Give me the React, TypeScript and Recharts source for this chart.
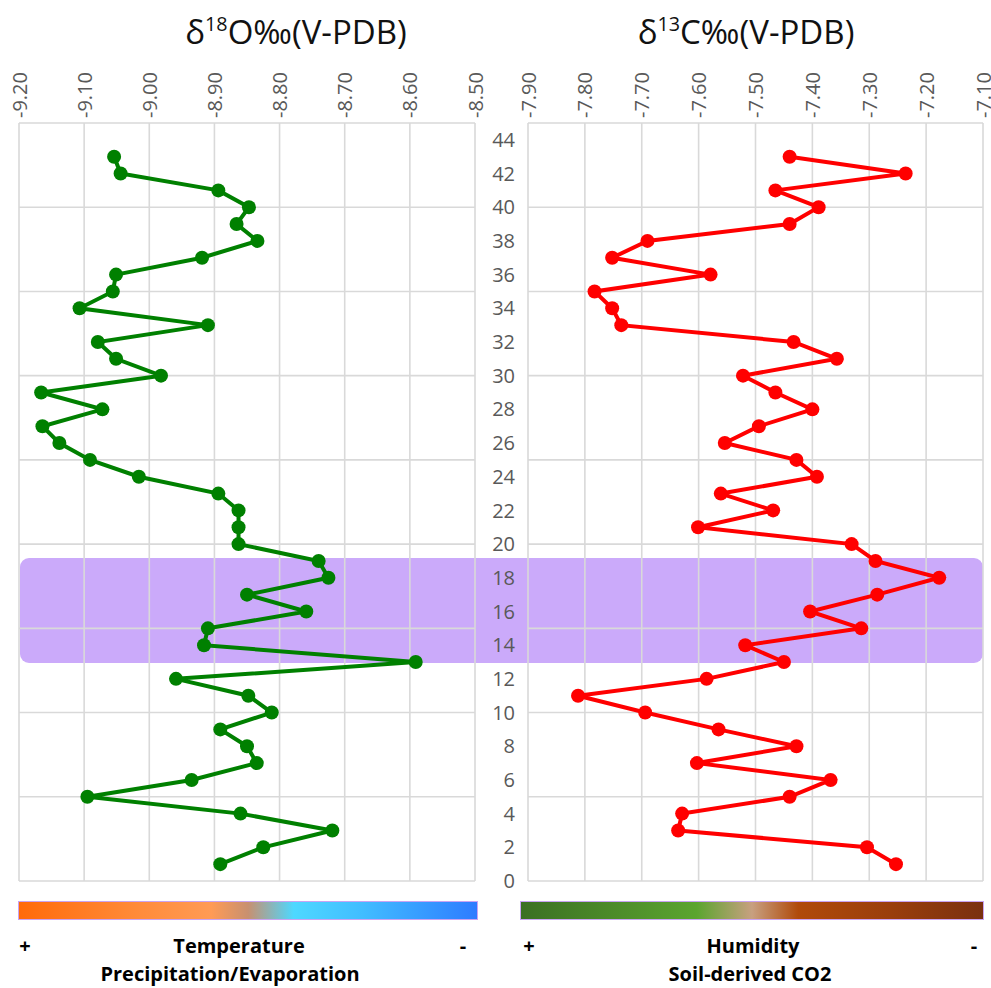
import React from 'react';
import { LineChart, Line, XAxis, YAxis, CartesianGrid } from 'recharts';

const depths = [1, 2, 3, 4, 5, 6, 7, 8, 9, 10, 11, 12, 13, 14, 15, 16, 17, 18, 19, 20, 21, 22, 23, 24, 25, 26, 27, 28, 29, 30, 31, 32, 33, 34, 35, 36, 37, 38, 39, 40, 41, 42, 43];
const d18O = [-8.891, -8.825, -8.719, -8.86, -9.095, -8.935, -8.835, -8.85, -8.891, -8.812, -8.848, -8.959, -8.591, -8.916, -8.91, -8.759, -8.85, -8.725, -8.74, -8.863, -8.863, -8.863, -8.894, -9.016, -9.091, -9.138, -9.164, -9.072, -9.166, -8.982, -9.051, -9.079, -8.91, -9.107, -9.056, -9.051, -8.919, -8.834, -8.866, -8.847, -8.894, -9.044, -9.054];
const d13C = [-7.253, -7.304, -7.636, -7.629, -7.44, -7.368, -7.603, -7.428, -7.565, -7.694, -7.812, -7.586, -7.45, -7.518, -7.314, -7.404, -7.286, -7.177, -7.289, -7.331, -7.601, -7.469, -7.561, -7.392, -7.428, -7.554, -7.494, -7.4, -7.465, -7.522, -7.357, -7.433, -7.736, -7.752, -7.783, -7.579, -7.752, -7.69, -7.44, -7.389, -7.465, -7.236, -7.44];
const d18OTicks = [-9.2, -9.1, -9.0, -8.9, -8.8, -8.7, -8.6, -8.5];
const d13CTicks = [-7.9, -7.8, -7.7, -7.6, -7.5, -7.4, -7.3, -7.2, -7.1];
const depthLabelTicks = [0, 2, 4, 6, 8, 10, 12, 14, 16, 18, 20, 22, 24, 26, 28, 30, 32, 34, 36, 38, 40, 42, 44];
const depthGridTicks = [0, 5, 10, 15, 20, 25, 30, 35, 40, 45];
const depthDomain = [0, 45];
const bandRange = [12.95, 19.2];

const data = depths.map((d, i) => ({ depth: d, o: d18O[i], c: d13C[i] }));

const FONT = '"Open Sans", "Noto Sans", sans-serif';
const TICK_COLOR = '#595959';
const GRID = '#d9d9d9';

const PLOT_TOP = 123;
const PLOT_BOTTOM = 881;
const CHART_H = 900;

const TopTick = (props: any) => {
  const { x, y, payload } = props;
  return (
    <text
      x={0}
      y={0}
      transform={`translate(${x},${y}) rotate(-90)`}
      textAnchor="start"
      dominantBaseline="central"
      fill={TICK_COLOR}
      fontSize={20}
      fontFamily={FONT}
    >
      {Number(payload.value).toFixed(2)}
    </text>
  );
};

const depthToY = (v: number) =>
  PLOT_TOP + ((depthDomain[1] - v) / (depthDomain[1] - depthDomain[0])) * (PLOT_BOTTOM - PLOT_TOP);

const gridRows = (args: any) => {
  const scale = args && args.yAxis && args.yAxis.scale;
  return depthGridTicks.map((v) => (typeof scale === 'function' ? scale(v) : depthToY(v)));
};

const Title = ({ cx, sup, main }: { cx: number; sup: string; main: string }) => (
  <div
    style={{
      position: 'absolute',
      left: cx - 200,
      top: 10,
      width: 400,
      textAlign: 'center',
      fontSize: 33,
      lineHeight: '44px',
      fontFamily: FONT,
      color: '#111',
      whiteSpace: 'nowrap',
    }}
  >
    δ
    <span style={{ fontSize: '0.6em', position: 'relative', top: '-0.65em' }}>{sup}</span>
    {main}
  </div>
);

const label = (text: string, cx: number, cy: number) => (
  <div
    style={{
      position: 'absolute',
      left: cx - 200,
      top: cy - 14,
      width: 400,
      textAlign: 'center',
      fontSize: 20,
      lineHeight: '28px',
      fontWeight: 700,
      fontFamily: FONT,
      color: '#000',
      whiteSpace: 'nowrap',
    }}
  >
    {text}
  </div>
);

export default function App() {
  const bandTop = depthToY(bandRange[1]);
  const bandBottom = depthToY(bandRange[0]);
  return (
    <div
      style={{
        position: 'absolute',
        left: 0,
        top: 0,
        width: 991,
        height: 988,
        background: '#fff',
        fontFamily: FONT,
        overflow: 'hidden',
      }}
    >
      <div
        style={{
          position: 'absolute',
          left: 20,
          width: 963,
          top: bandTop,
          height: bandBottom - bandTop,
          background: '#CBAAFA',
          borderRadius: 9,
        }}
      />
      <Title cx={296} sup="18" main="O‰(V-PDB)" />
      <Title cx={746} sup="13" main="C‰(V-PDB)" />

      <div style={{ position: 'absolute', left: 0, top: 0 }}>
        <LineChart
          width={491}
          height={CHART_H}
          data={data}
          layout="vertical"
          margin={{ top: 60, right: 16, bottom: CHART_H - PLOT_BOTTOM, left: 19 }}
        >
          <CartesianGrid stroke={GRID} strokeWidth={1.6} horizontalCoordinatesGenerator={gridRows} />
          <XAxis
            type="number"
            dataKey="o"
            orientation="top"
            domain={[d18OTicks[0], d18OTicks[d18OTicks.length - 1]]}
            ticks={d18OTicks}
            allowDataOverflow
            height={PLOT_TOP - 60}
            axisLine={false}
            tickLine={false}
            tickSize={5}
            tickMargin={0}
            tick={<TopTick />}
            interval={0}
          />
          <YAxis
            type="number"
            dataKey="depth"
            domain={depthDomain}
            ticks={depthGridTicks}
            allowDataOverflow
            reversed
            hide
          />
          <Line
            dataKey="o"
            stroke="#008000"
            strokeWidth={4}
            dot={{ r: 7, fill: '#008000', stroke: '#008000', strokeWidth: 0 }}
            isAnimationActive={false}
          />
        </LineChart>
      </div>

      <div style={{ position: 'absolute', left: 440, top: 0 }}>
        <LineChart
          width={551}
          height={CHART_H}
          data={data}
          layout="vertical"
          margin={{ top: 60, right: 8, bottom: CHART_H - PLOT_BOTTOM, left: 18 }}
        >
          <CartesianGrid stroke={GRID} strokeWidth={1.6} horizontalCoordinatesGenerator={gridRows} />
          <XAxis
            type="number"
            dataKey="c"
            orientation="top"
            domain={[d13CTicks[0], d13CTicks[d13CTicks.length - 1]]}
            ticks={d13CTicks}
            allowDataOverflow
            height={PLOT_TOP - 60}
            axisLine={false}
            tickLine={false}
            tickSize={5}
            tickMargin={0}
            tick={<TopTick />}
            interval={0}
          />
          <YAxis
            type="number"
            dataKey="depth"
            domain={depthDomain}
            ticks={depthLabelTicks}
            allowDataOverflow
            reversed
            width={70}
            axisLine={false}
            tickLine={false}
            tickSize={6}
            tickMargin={7}
            interval={0}
            tick={{ fill: TICK_COLOR, fontSize: 20, fontFamily: FONT }}
          />
          <Line
            dataKey="c"
            stroke="#FF0000"
            strokeWidth={4}
            dot={{ r: 7, fill: '#FF0000', stroke: '#FF0000', strokeWidth: 0 }}
            isAnimationActive={false}
          />
        </LineChart>
      </div>

      <div
        style={{
          position: 'absolute',
          left: 18,
          top: 901,
          width: 460,
          height: 19,
          boxSizing: 'border-box',
          border: '1.5px solid #C9A3F2',
          background:
            'linear-gradient(to right, #FF6A0A 0%, #FF8A38 25%, #FF9B55 42%, #C89070 50%, #4ED8FF 60%, #41BDFF 75%, #2E7CFF 100%)',
        }}
      />
      <div
        style={{
          position: 'absolute',
          left: 520,
          top: 901,
          width: 464,
          height: 19,
          boxSizing: 'border-box',
          border: '1.5px solid #C9A3F2',
          background:
            'linear-gradient(to right, #3B7023 0%, #4E8E2A 22%, #5BA52F 38%, #C8A080 50%, #B04A0A 60%, #9A3E0C 80%, #7A3010 100%)',
        }}
      />

      {label('+', 25, 946)}
      {label('Temperature', 239, 946)}
      {label('-', 463, 946)}
      {label('Precipitation/Evaporation', 230, 974)}
      {label('+', 529, 946)}
      {label('Humidity', 753, 946)}
      {label('-', 974, 946)}
      {label('Soil-derived CO2', 750, 974)}
    </div>
  );
}
